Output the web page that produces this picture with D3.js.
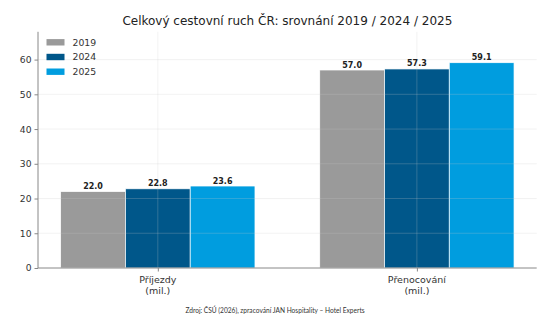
<!DOCTYPE html>
<html><head><meta charset="utf-8">
<script src="https://cdn.jsdelivr.net/npm/d3@7"></script>
<style>body{margin:0;background:#fff}svg{display:block}</style>
</head><body><svg id="c" width="550" height="330"></svg>
<script>
const categories = ["Příjezdy\n(mil.)", "Přenocování\n(mil.)"];
const years = ["2019", "2024", "2025"];
const values2019 = [22.0, 57.0];
const values2024 = [22.8, 57.3];
const values2025 = [23.6, 59.1];
const yTicks = [0, 10, 20, 30, 40, 50, 60];
const colors = ["#9a9a9a", "#00578a", "#009ddf"];
const title = "Celkový cestovní ruch ČR: srovnání 2019 / 2024 / 2025";
const source = "Zdroj: ČSÚ (2026), zpracování JAN Hospitality – Hotel Experts";

const series = [values2019, values2024, values2025];
const svg = d3.select("#c");
const F = "DejaVu Sans, sans-serif";
const L = 38, R = 536.7, T = 31.8, B = 268;
const bw = 0.25;
const x = d3.scaleLinear().domain([-0.4625, 1.4625]).range([L, R]);
const y = d3.scaleLinear().domain([0, 68]).range([B, T]);

// bars
series.forEach((vals, si) => {
  svg.append("g").selectAll("rect").data(vals).join("rect")
    .attr("x", (d, i) => x(i + (si - 1) * bw - bw / 2))
    .attr("width", x(bw) - x(0))
    .attr("y", d => y(d))
    .attr("height", d => y(0) - y(d))
    .attr("fill", colors[si])
    .attr("stroke", "#fff").attr("stroke-width", 0.7);
});

// grid (drawn above bars, translucent)
const g = svg.append("g");
g.selectAll("line.h").data(yTicks.slice(1)).join("line")
  .attr("x1", L).attr("x2", R).attr("y1", d => y(d)).attr("y2", d => y(d))
  .attr("stroke", "#c8c8c8").attr("stroke-opacity", 0.3).attr("stroke-width", 0.8);
g.selectAll("line.v").data(categories).join("line")
  .attr("x1", (d, i) => x(i)).attr("x2", (d, i) => x(i)).attr("y1", T).attr("y2", B)
  .attr("stroke", "#c8c8c8").attr("stroke-opacity", 0.3).attr("stroke-width", 0.8);

// value labels
series.forEach((vals, si) => {
  svg.append("g").selectAll("text").data(vals).join("text")
    .attr("x", (d, i) => x(i + (si - 1) * bw))
    .attr("y", d => y(d) - 2.5)
    .attr("text-anchor", "middle")
    .attr("font-family", F).attr("font-size", 8).attr("font-weight", "bold")
    .attr("fill", "#222")
    .text(d => d.toFixed(1));
});

// y axis
const ya = svg.append("g").attr("transform", `translate(${L},0)`)
  .call(d3.axisLeft(y).tickValues(yTicks).tickSize(3.5).tickPadding(3));
ya.select(".domain").attr("stroke", "#888").attr("stroke-width", 1).attr("d", `M0,${T}V${B}`);
ya.selectAll(".tick line").attr("stroke", "#888");
ya.selectAll(".tick text").attr("font-family", F).attr("font-size", 9.2).attr("fill", "#333");

// x axis
const xa = svg.append("g").attr("transform", `translate(0,${B})`)
  .call(d3.axisBottom(x).tickValues([0, 1]).tickSize(3.5).tickFormat(""));
xa.select(".domain").attr("stroke", "#888").attr("stroke-width", 1).attr("d", `M${L},0H${R}`);
xa.selectAll(".tick line").attr("stroke", "#888");

categories.forEach((c, i) => {
  const t = svg.append("text").attr("text-anchor", "middle")
    .attr("font-family", F).attr("font-size", 9.5).attr("fill", "#333");
  c.split("\n").forEach((ln, k) => {
    t.append("tspan").attr("x", x(i)).attr("y", 282.5 + k * 11.5).text(ln);
  });
});

// legend
years.forEach((yr, i) => {
  const cy = 42.3 + i * 14.7;
  svg.append("rect").attr("x", 46.5).attr("y", cy - 3.2).attr("width", 18).attr("height", 6.4)
    .attr("fill", colors[i]);
  svg.append("text").attr("x", 72.5).attr("y", cy + 3.4)
    .attr("font-family", F).attr("font-size", 9.3).attr("fill", "#333").text(yr);
});

// title
svg.append("text").attr("x", (L + R) / 2).attr("y", 25)
  .attr("text-anchor", "middle").attr("font-family", F).attr("font-size", 12)
  .attr("fill", "#222").text(title);

// source
svg.append("text").attr("x", 275).attr("y", 312.5)
  .attr("text-anchor", "middle").attr("font-family", "Lato, sans-serif").attr("font-size", 6.6)
  .attr("fill", "#333").text(source);
</script></body></html>
